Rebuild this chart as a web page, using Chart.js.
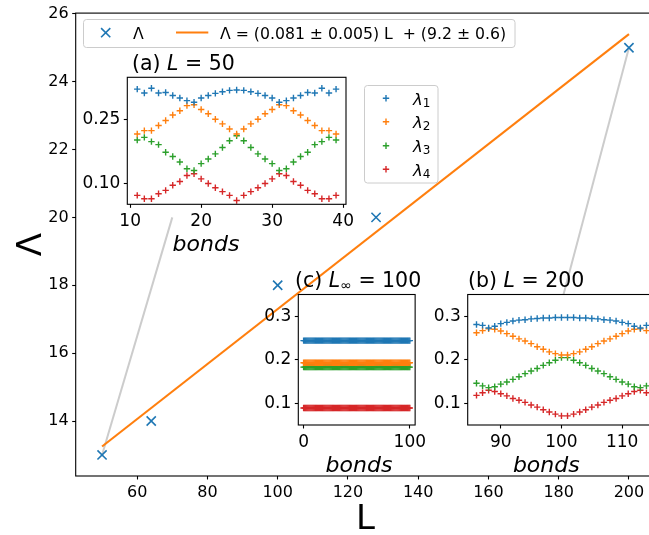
<!DOCTYPE html>
<html>
<head>
<meta charset="utf-8">
<script src="https://cdn.jsdelivr.net/npm/chart.js@4.4.0/dist/chart.umd.min.js"></script>
<style>
  html, body { margin: 0; padding: 0; background: #fff; overflow: hidden; width: 649px; height: 535px; }
  canvas { position: absolute; }
</style>
</head>
<body>
<canvas id="mainChart" width="666" height="545" style="left:0px;top:0px"></canvas>
<canvas id="insetA" width="375" height="215" style="left:75px;top:45px"></canvas>
<canvas id="insetC" width="180" height="225" style="left:250px;top:255px"></canvas>
<canvas id="insetB" width="245" height="225" style="left:430px;top:255px"></canvas>
<script>
// main data: Lambda vs L
const mainL = [50, 64, 100, 128, 200];
const mainLambda = [13, 14, 18, 20, 25];
const fitL = [50, 200];
const fitLambda = [13.25, 25.4];
const linkAL = [50, 70];
const linkALambda = [13, 20];
const linkBL = [200, 179.5];
const linkBLambda = [25, 17];
const mainXTicks = [60, 80, 100, 120, 140, 160, 180, 200];
const mainYTicks = [14, 16, 18, 20, 22, 24, 26];

// inset (a) L = 50
const bondsA = [11, 12, 13, 14, 15, 16, 17, 18, 19, 20, 21, 22, 23, 24, 25, 26, 27, 28, 29, 30, 31, 32, 33, 34, 35, 36, 37, 38, 39];
const lam1A = [0.322, 0.313, 0.324, 0.313, 0.314, 0.307, 0.301, 0.295, 0.291, 0.301, 0.307, 0.312, 0.316, 0.319, 0.320,
               0.319, 0.316, 0.312, 0.307, 0.301, 0.291, 0.295, 0.301, 0.307, 0.314, 0.313, 0.324, 0.313, 0.322];
const lam2A = [0.216, 0.224, 0.224, 0.236, 0.248, 0.261, 0.271, 0.283, 0.285, 0.274, 0.264, 0.251, 0.240, 0.228, 0.216,
               0.228, 0.240, 0.251, 0.264, 0.274, 0.285, 0.283, 0.271, 0.261, 0.248, 0.236, 0.224, 0.224, 0.216];
const lam3A = [0.202, 0.208, 0.198, 0.191, 0.173, 0.163, 0.150, 0.134, 0.130, 0.146, 0.157, 0.169, 0.184, 0.200, 0.212,
               0.200, 0.184, 0.169, 0.157, 0.146, 0.130, 0.134, 0.150, 0.163, 0.173, 0.191, 0.198, 0.208, 0.202];
const lam4A = [0.071, 0.063, 0.063, 0.075, 0.083, 0.095, 0.104, 0.118, 0.122, 0.110, 0.099, 0.089, 0.080, 0.071, 0.059,
               0.071, 0.080, 0.089, 0.099, 0.110, 0.122, 0.118, 0.104, 0.095, 0.083, 0.075, 0.063, 0.063, 0.071];
const xTicksA = [10, 20, 30, 40];
const yTicksA = [0.10, 0.25];

// inset (b) L = 200
const bondsB = [86, 87, 88, 89, 90, 91, 92, 93, 94, 95, 96, 97, 98, 99, 100,
                101, 102, 103, 104, 105, 106, 107, 108, 109, 110, 111, 112, 113, 114, 115];
const lam1B = [0.281, 0.279, 0.273, 0.277, 0.283, 0.286, 0.289, 0.291, 0.292, 0.294, 0.295, 0.296, 0.296, 0.297, 0.297,
               0.297, 0.297, 0.296, 0.296, 0.295, 0.294, 0.292, 0.291, 0.289, 0.286, 0.283, 0.277, 0.273, 0.279, 0.281];
const lam2B = [0.262, 0.267, 0.271, 0.270, 0.266, 0.260, 0.254, 0.248, 0.243, 0.237, 0.230, 0.224, 0.218, 0.214, 0.211,
               0.211, 0.214, 0.218, 0.224, 0.230, 0.237, 0.243, 0.248, 0.254, 0.260, 0.266, 0.270, 0.271, 0.267, 0.262];
const lam3B = [0.146, 0.140, 0.136, 0.138, 0.144, 0.149, 0.155, 0.161, 0.168, 0.174, 0.180, 0.187, 0.193, 0.199, 0.205,
               0.205, 0.199, 0.193, 0.187, 0.180, 0.174, 0.168, 0.161, 0.155, 0.149, 0.144, 0.138, 0.136, 0.140, 0.146];
const lam4B = [0.118, 0.124, 0.130, 0.127, 0.122, 0.117, 0.111, 0.107, 0.102, 0.096, 0.091, 0.085, 0.080, 0.075, 0.071,
               0.071, 0.075, 0.080, 0.085, 0.091, 0.096, 0.102, 0.107, 0.111, 0.117, 0.122, 0.127, 0.130, 0.124, 0.118];
const xTicksB = [90, 100, 110];
const yTicksBC = [0.1, 0.2, 0.3];

// inset (c) L_inf = 100, flat levels
const bondsC = [];
for (let b = 0; b <= 100; b++) bondsC.push(b);
const levelsC = [0.244, 0.193, 0.183, 0.089];
const xTicksC = [0, 100];

const BLUE = '#1f77b4', ORANGE = '#ff7f0e', GREEN = '#2ca02c', RED = '#d62728';
const FONT = "'DejaVu Sans', sans-serif";
const MAIN_TICK = 16, INSET_TICK = 17;

function fontStr(p) {
  return (p.i ? 'italic ' : '') + p.s + 'px ' + FONT;
}

// draw a run of text pieces (normal / italic / subscript) on one baseline
function drawRich(ctx, x, y, parts, align) {
  let total = 0;
  parts.forEach(p => { ctx.font = fontStr(p); total += ctx.measureText(p.t).width; });
  let cx = align === 'center' ? x - total / 2 : x;
  ctx.textAlign = 'left';
  ctx.textBaseline = 'alphabetic';
  ctx.fillStyle = '#000';
  parts.forEach(p => {
    ctx.font = fontStr(p);
    ctx.fillText(p.t, cx, y + (p.dy || 0));
    cx += ctx.measureText(p.t).width;
  });
}

function roundRect(ctx, x, y, w, h, r) {
  ctx.beginPath();
  ctx.moveTo(x + r, y);
  ctx.arcTo(x + w, y, x + w, y + h, r);
  ctx.arcTo(x + w, y + h, x, y + h, r);
  ctx.arcTo(x, y + h, x, y, r);
  ctx.arcTo(x, y, x + w, y, r);
  ctx.closePath();
}

// white axes face + black frame round the plot area
const framePlugin = {
  id: 'frame',
  beforeDraw(chart, args, opts) {
    if (!opts.fill) return;
    const a = chart.chartArea, ctx = chart.ctx;
    ctx.save();
    ctx.fillStyle = '#fff';
    ctx.fillRect(a.left, a.top, a.right - a.left, a.bottom - a.top);
    ctx.restore();
  },
  afterDatasetsDraw(chart) {
    const a = chart.chartArea, ctx = chart.ctx;
    ctx.save();
    ctx.strokeStyle = '#000';
    ctx.lineWidth = 1.1;
    ctx.strokeRect(a.left, a.top, a.right - a.left, a.bottom - a.top);
    ctx.restore();
  }
};

// extra texts (titles, italic axis labels) and legends, given in page coordinates
const decorPlugin = {
  id: 'decor',
  afterDraw(chart, args, opts) {
    const ctx = chart.ctx;
    ctx.save();
    ctx.translate(-opts.ox, -opts.oy);
    (opts.texts || []).forEach(t => drawRich(ctx, t.x, t.y, t.parts, t.align));
    if (opts.legend) opts.legend(ctx, chart);
    ctx.restore();
  }
};

function axisStyle(ticks, fmt, size) {
  return {
    type: 'linear',
    afterBuildTicks: s => { s.ticks = ticks.map(v => ({ value: v })); },
    grid: { drawOnChartArea: false, drawTicks: true, tickLength: 3.5, color: '#000', tickWidth: 1.1 },
    border: { display: false },
    ticks: { color: '#000', font: { family: FONT, size: size }, padding: 3.5, maxRotation: 0, autoSkip: false, callback: fmt }
  };
}

function pts(xs, ys) {
  return xs.map((x, i) => ({ x: x, y: ys[i] }));
}

// ---------- main chart ----------
const mainCanvas = document.getElementById('mainChart');
const mainArea = { left: 75.7, top: 12, right: 655.3, bottom: 476 };

const mainX = axisStyle(mainXTicks, v => String(v), MAIN_TICK);
Object.assign(mainX, {
  min: 42.5, max: 207.5,
  afterFit: s => { s.height = mainCanvas.height - mainArea.bottom; },
  title: { display: true, text: 'L', color: '#000', font: { family: FONT, size: 34, lineHeight: 1 }, padding: { top: 0, bottom: 8 } }
});
const mainY = axisStyle(mainYTicks, v => String(v), MAIN_TICK);
Object.assign(mainY, {
  min: 12.38, max: 26.02,
  afterFit: s => { s.width = mainArea.left; },
  title: { display: true, text: 'Λ', color: '#000', font: { family: FONT, size: 34, lineHeight: 1 }, padding: { top: 15, bottom: 0 } }
});

new Chart(mainCanvas, {
  type: 'scatter',
  data: {
    datasets: [
      { label: 'Λ', data: pts(mainL, mainLambda), showLine: false, pointStyle: 'crossRot', pointRadius: 6.5,
        pointBorderWidth: 1.6, pointBorderColor: BLUE, pointBackgroundColor: BLUE, order: 0 },
      { label: 'Λ = (0.081 ± 0.005) L  + (9.2 ± 0.6)', data: pts(fitL, fitLambda), showLine: true,
        borderColor: ORANGE, borderWidth: 2.1, pointRadius: 0, order: 1 },
      { label: '', data: pts(linkAL, linkALambda), showLine: true, borderColor: '#cccccc', borderWidth: 2, pointRadius: 0, order: 2 },
      { label: '', data: pts(linkBL, linkBLambda), showLine: true, borderColor: '#cccccc', borderWidth: 2, pointRadius: 0, order: 2 }
    ]
  },
  options: {
    responsive: false,
    animation: false,
    events: [],
    layout: { padding: { left: 0, top: mainArea.top, right: mainCanvas.width - mainArea.right, bottom: 0 } },
    scales: { x: mainX, y: mainY },
    plugins: {
      legend: { display: false },
      tooltip: { enabled: false },
      frame: { fill: false },
      decor: {
        ox: 0, oy: 0,
        legend: (ctx, chart) => {
          const ds = chart.data.datasets;
          roundRect(ctx, 83.5, 19.5, 431.5, 28, 3);
          ctx.fillStyle = 'rgba(255,255,255,0.8)';
          ctx.fill();
          ctx.strokeStyle = '#cccccc';
          ctx.lineWidth = 1;
          ctx.stroke();
          // x marker
          ctx.strokeStyle = BLUE;
          ctx.lineWidth = 1.6;
          ctx.beginPath();
          ctx.moveTo(101.1, 28.1); ctx.lineTo(110.3, 37.3);
          ctx.moveTo(110.3, 28.1); ctx.lineTo(101.1, 37.3);
          ctx.stroke();
          drawRich(ctx, 133, 39.3, [{ t: ds[0].label, s: 15.7 }]);
          ctx.strokeStyle = ORANGE;
          ctx.lineWidth = 2.1;
          ctx.beginPath();
          ctx.moveTo(176, 32.5); ctx.lineTo(208.3, 32.5);
          ctx.stroke();
          drawRich(ctx, 220, 39.3, [{ t: ds[1].label, s: 15.7 }]);
        }
      }
    }
  },
  plugins: [framePlugin, decorPlugin]
});

// ---------- insets ----------
function plusSet(label, xs, ys, color) {
  return { label: label, data: pts(xs, ys), showLine: false, pointStyle: 'cross', pointRadius: 3.2,
           pointBorderWidth: 1.4, pointBorderColor: color, pointBackgroundColor: color };
}

function makeInset(id, ox, oy, area, xr, yr, xt, yt, yfmt, datasets, texts, legend) {
  const cv = document.getElementById(id);
  const x = axisStyle(xt, v => String(v), INSET_TICK);
  Object.assign(x, { min: xr[0], max: xr[1], afterFit: s => { s.height = oy + cv.height - area.bottom; } });
  const y = axisStyle(yt, yfmt, INSET_TICK);
  Object.assign(y, { min: yr[0], max: yr[1], afterFit: s => { s.width = area.left - ox; } });
  return new Chart(cv, {
    type: 'scatter',
    data: { datasets: datasets },
    options: {
      responsive: false,
      animation: false,
      events: [],
      layout: { padding: { left: 0, top: area.top - oy, right: ox + cv.width - area.right, bottom: 0 } },
      scales: { x: x, y: y },
      plugins: {
        legend: { display: false },
        tooltip: { enabled: false },
        frame: { fill: true },
        decor: { ox: ox, oy: oy, texts: texts, legend: legend }
      }
    },
    plugins: [framePlugin, decorPlugin]
  });
}

const bondsLabel = (cx, y) => ({ x: cx, y: y, align: 'center', parts: [{ t: 'bonds', s: 22, i: true }] });

makeInset('insetA', 75, 45, { left: 127.3, top: 77.3, right: 346, bottom: 204.3 },
  [9.6, 40.4], [0.05, 0.35], xTicksA, yTicksA, v => v.toFixed(2),
  [plusSet('λ1', bondsA, lam1A, BLUE), plusSet('λ2', bondsA, lam2A, ORANGE),
   plusSet('λ3', bondsA, lam3A, GREEN), plusSet('λ4', bondsA, lam4A, RED)],
  [
    { x: 132, y: 70, parts: [{ t: '(a) ', s: 20.5 }, { t: 'L', s: 20.5, i: true }, { t: ' = 50', s: 20.5 }] },
    bondsLabel(206, 250.7)
  ],
  (ctx, chart) => {
    roundRect(ctx, 364.5, 85.5, 73.5, 97.5, 3);
    ctx.fillStyle = 'rgba(255,255,255,0.8)';
    ctx.fill();
    ctx.strokeStyle = '#cccccc';
    ctx.lineWidth = 1;
    ctx.stroke();
    const rows = [98.3, 121.7, 145.7, 169.3];
    chart.data.datasets.forEach((ds, i) => {
      const yy = rows[i];
      ctx.strokeStyle = ds.pointBorderColor;
      ctx.lineWidth = 1.4;
      ctx.beginPath();
      ctx.moveTo(382.8, yy); ctx.lineTo(389.2, yy);
      ctx.moveTo(386, yy - 3.2); ctx.lineTo(386, yy + 3.2);
      ctx.stroke();
      drawRich(ctx, 413, yy + 6.7, [{ t: ds.label[0], s: 16.5, i: true }, { t: ds.label.slice(1), s: 12, dy: 2 }]);
    });
  });

makeInset('insetC', 250, 255, { left: 298.3, top: 294.5, right: 420, bottom: 425 },
  [-5, 105], [0.05, 0.35], xTicksC, yTicksBC, v => v.toFixed(1),
  [plusSet('λ1', bondsC, bondsC.map(() => levelsC[0]), BLUE), plusSet('λ2', bondsC, bondsC.map(() => levelsC[1]), ORANGE),
   plusSet('λ3', bondsC, bondsC.map(() => levelsC[2]), GREEN), plusSet('λ4', bondsC, bondsC.map(() => levelsC[3]), RED)],
  [
    { x: 295, y: 287, parts: [{ t: '(c) ', s: 20.5 }, { t: 'L', s: 20.5, i: true }, { t: '∞', s: 14, dy: 3 }, { t: ' = 100', s: 20.5 }] },
    bondsLabel(359, 471.7)
  ]);

makeInset('insetB', 430, 255, { left: 467.7, top: 294.5, right: 661.3, bottom: 425 },
  [84.55, 116.45], [0.05, 0.35], xTicksB, yTicksBC, v => v.toFixed(1),
  [plusSet('λ1', bondsB, lam1B, BLUE), plusSet('λ2', bondsB, lam2B, ORANGE),
   plusSet('λ3', bondsB, lam3B, GREEN), plusSet('λ4', bondsB, lam4B, RED)],
  [
    { x: 468, y: 287, parts: [{ t: '(b) ', s: 20.5 }, { t: 'L', s: 20.5, i: true }, { t: ' = 200', s: 20.5 }] },
    bondsLabel(546.3, 471.7)
  ]);
</script>
</body>
</html>
